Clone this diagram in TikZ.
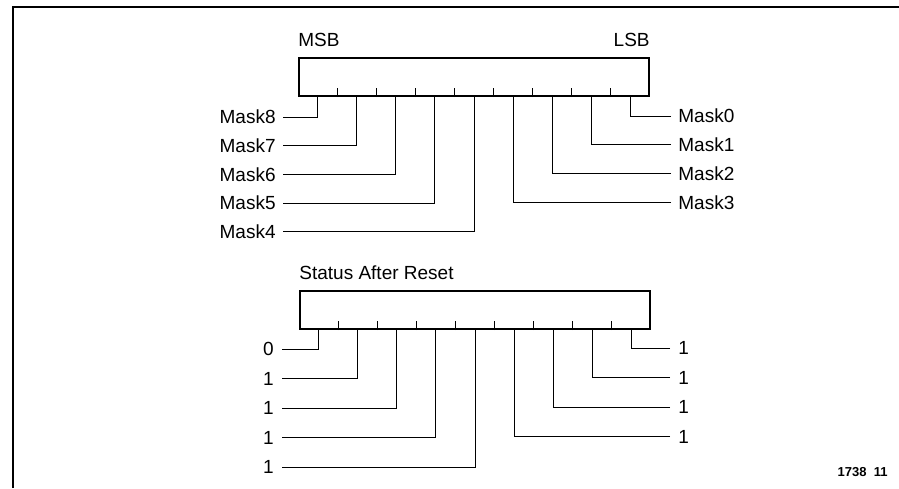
\documentclass[tikz,border=0pt]{standalone}
\usepackage{fontspec}
\setmainfont{Liberation Sans}
\usetikzlibrary{calc,positioning}

\begin{document}
\begin{tikzpicture}[
  x=0.5pt, y=-0.5pt,
  reg/.style={draw, line width=1pt, minimum width=175pt, minimum height=19pt, inner sep=0pt},
  lbl/.style={font=\fontsize{9.5}{11}\selectfont, inner sep=0pt},
  lead/.style={line width=0.5pt}
]
\useasboundingbox (0,0) rectangle (899,488);
\draw[line width=1pt] (13,488) |- (899,7);

% mask register
\node[reg] (top) at (474,77) {};
\node[lbl, above right=5pt and 0pt of top.north west] (msb) {MSB};
\node[lbl, above left=5pt and 0pt of top.north east] (lsb) {LSB};
\foreach \i in {1,...,8}
  \draw[lead] ($(top.south west)!\i/9!(top.south east)$) -- ++(0,-9);
\foreach \b [evaluate=\b as \f using (8.5-\b)/9] in {0,...,8}
  \coordinate (m\b) at ($(top.south west)!\f!(top.south east)$);
\foreach \b/\r in {8/0,7/1,6/2,5/3,4/4} {
  \node[lbl, anchor=east] (l\b) at (276,117+28.7*\r) {Mask\b};
  \draw[lead] ([xshift=3.5pt]l\b.east) -| (m\b);
}
\foreach \b/\r in {0/0,1/1,2/2,3/3} {
  \node[lbl, anchor=west] (l\b) at (678,116+28.9*\r) {Mask\b};
  \draw[lead] ([xshift=-3.5pt]l\b.west) -| (m\b);
}

% status after reset
\node[reg] (bot) at (475,310) {};
\node[lbl, above right=5pt and 0pt of bot.north west] (sar) {Status After Reset};
\foreach \i in {1,...,8}
  \draw[lead] ($(bot.south west)!\i/9!(bot.south east)$) -- ++(0,-9);
\foreach \b [evaluate=\b as \f using (8.5-\b)/9] in {0,...,8}
  \coordinate (s\b) at ($(bot.south west)!\f!(bot.south east)$);
\foreach \b/\r/\v in {8/0/0,7/1/1,6/2/1,5/3/1,4/4/1} {
  \node[lbl, anchor=east] (v\b) at (274,349+29.5*\r) {\v};
  \draw[lead] ([xshift=4pt]v\b.east) -| (s\b);
}
\foreach \b/\r/\v in {0/0/1,1/1/1,2/2/1,3/3/1} {
  \node[lbl, anchor=west] (v\b) at (678,348+29.5*\r) {\v};
  \draw[lead] ([xshift=-4pt]v\b.west) -| (s\b);
}

\node[font=\bfseries\fontsize{6.5}{8}\selectfont, inner sep=0pt, anchor=east] (fig) at (888,472) {1738~~11};
\end{tikzpicture}
\end{document}
